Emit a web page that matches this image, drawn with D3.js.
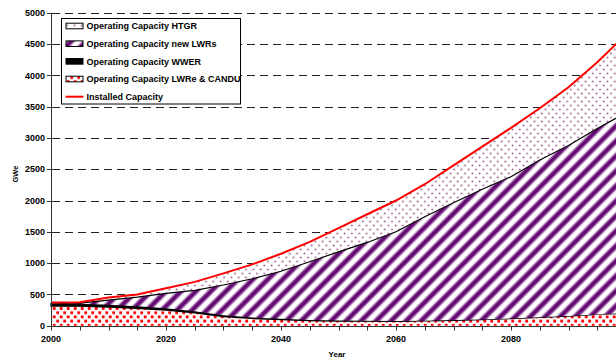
<!DOCTYPE html>
<html>
<head>
<meta charset="utf-8">
<script src="https://cdn.jsdelivr.net/npm/d3@7"></script>
<style>
  body { margin: 0; background: #fff; }
  svg { display: block; }
  text { font-family: "Liberation Sans", Arial, sans-serif; font-weight: bold; fill: #000; }
</style>
</head>
<body>
<svg id="chart" width="616" height="360"></svg>
<script>
// Operating capacity by reactor type, GWe, every five years
const years      = [2000, 2005, 2010, 2015, 2020, 2025, 2030, 2035, 2040, 2045, 2050, 2055, 2060, 2065, 2070, 2075, 2080, 2085, 2090, 2095, 2100];
const lwreCandu  = [314, 312, 299, 276, 250, 205, 147, 116, 98, 81, 74, 72, 71, 76, 87, 98, 113, 134, 154, 180, 200];
const wwer       = [38, 38, 36, 34, 30, 25, 18, 14, 12, 10, 8, 6, 5, 4, 3, 2, 2, 1, 1, 0, 0];
const newLwrs    = [8, 12, 75, 145, 237, 335, 485, 620, 760, 931, 1098, 1252, 1424, 1660, 1875, 2080, 2265, 2512, 2725, 2970, 3200];
const htgr       = [12, 13, 40, 45, 80, 135, 186, 230, 280, 318, 380, 450, 500, 520, 595, 680, 780, 826, 930, 1060, 1250];
const installed  = [372, 375, 450, 500, 597, 700, 836, 980, 1150, 1340, 1560, 1780, 2000, 2260, 2560, 2860, 3160, 3473, 3810, 4210, 4650];

const yTicks = d3.range(0, 5001, 500);
const xMinorTicks = d3.range(2000, 2101, 5);
const xLabels = [2000, 2020, 2040, 2060, 2080];

const legendItems = [
  { key: "htgr",      label: "Operating Capacity HTGR" },
  { key: "newLwrs",   label: "Operating Capacity new LWRs" },
  { key: "wwer",      label: "Operating Capacity WWER" },
  { key: "lwreCandu", label: "Operating Capacity LWRe & CANDU" },
  { key: "installed", label: "Installed Capacity" }
];

const svg = d3.select("#chart");
const x = d3.scaleLinear().domain([2000, 2100]).range([51, 626]);
const y = d3.scaleLinear().domain([0, 5000]).range([325.7, 12.7]);

// ---- fill patterns ----
const defs = svg.append("defs");

// red confetti squares
const pRed = defs.append("pattern").attr("id", "pRed")
  .attr("patternUnits", "userSpaceOnUse").attr("width", 7).attr("height", 8.4);
pRed.append("rect").attr("width", 7).attr("height", 8.4).attr("fill", "#fff");
pRed.append("rect").attr("x", 0.3).attr("y", 0.5).attr("width", 2.8).attr("height", 2.8).attr("fill", "#ff0000");
pRed.append("rect").attr("x", 3.8).attr("y", 4.7).attr("width", 2.8).attr("height", 2.8).attr("fill", "#ff0000");

// purple diagonal stripes
const grad = defs.append("linearGradient").attr("id", "gStripe")
  .attr("x1", "0").attr("x2", "1").attr("y1", "0").attr("y2", "0");
[["0%", "#ffffff"], ["16%", "#ffffff"], ["38%", "#650a73"], ["62%", "#650a73"], ["84%", "#ffffff"], ["100%", "#ffffff"]]
  .forEach(([o, c]) => grad.append("stop").attr("offset", o).attr("stop-color", c));
const pStripe = defs.append("pattern").attr("id", "pStripe")
  .attr("patternUnits", "userSpaceOnUse").attr("width", 10.6).attr("height", 10.6)
  .attr("patternTransform", "rotate(45)");
pStripe.append("rect").attr("width", 10.6).attr("height", 10.6).attr("fill", "url(#gStripe)");

// sparse pink dots
const pDots = defs.append("pattern").attr("id", "pDots")
  .attr("patternUnits", "userSpaceOnUse").attr("width", 7.3).attr("height", 8);
pDots.append("rect").attr("width", 7.3).attr("height", 8).attr("fill", "#fff");
pDots.append("circle").attr("cx", 1.5).attr("cy", 1.5).attr("r", 0.95).attr("fill", "#a0608e");
pDots.append("circle").attr("cx", 5.15).attr("cy", 5.5).attr("r", 0.95).attr("fill", "#a0608e");

const fills = { htgr: "url(#pDots)", newLwrs: "url(#pStripe)", wwer: "#000", lwreCandu: "url(#pRed)" };

// ---- gridlines ----
svg.append("g").selectAll("line").data(yTicks.filter(d => d > 0)).join("line")
  .attr("x1", 52).attr("x2", 616)
  .attr("y1", d => Math.round(y(d)) + 0.5).attr("y2", d => Math.round(y(d)) + 0.5)
  .attr("stroke", "#222").attr("stroke-width", 1).attr("stroke-dasharray", "8,5");

// ---- stacked areas ----
const rows = years.map((yr, i) => ({
  year: yr, lwreCandu: lwreCandu[i], wwer: wwer[i], newLwrs: newLwrs[i], htgr: htgr[i]
}));
const stack = d3.stack().keys(["lwreCandu", "wwer", "newLwrs", "htgr"]);
const layers = stack(rows);

const area = d3.area()
  .x(d => x(d.data.year))
  .y0(d => y(d[0]))
  .y1(d => y(d[1]));

svg.append("g").selectAll("path").data(layers).join("path")
  .attr("d", area)
  .attr("fill", d => fills[d.key])
  .attr("stroke", d => d.key === "wwer" ? "#000" : "none")
  .attr("stroke-width", 1.3);

// black outline on top of the new-LWR layer
const topLine = d3.line().x(d => x(d.data.year)).y(d => y(d[1]));
svg.append("path").datum(layers[2])
  .attr("d", topLine).attr("fill", "none").attr("stroke", "#000").attr("stroke-width", 1.2);

// installed capacity
const instLine = d3.line().x((d, i) => x(years[i])).y(d => y(d));
svg.append("path").datum(installed)
  .attr("d", instLine).attr("fill", "none").attr("stroke", "#ff0000").attr("stroke-width", 2);

// ---- axes ----
const axisColor = "#333";
const gy = svg.append("g");
gy.append("line").attr("x1", 51.5).attr("x2", 51.5).attr("y1", y(5000)).attr("y2", y(0) + 0.5)
  .attr("stroke", axisColor);
gy.selectAll("line.t").data(yTicks).join("line").attr("class", "t")
  .attr("x1", 47).attr("x2", 51.5)
  .attr("y1", d => Math.round(y(d)) + 0.5).attr("y2", d => Math.round(y(d)) + 0.5)
  .attr("stroke", axisColor);
gy.selectAll("text").data(yTicks).join("text")
  .attr("x", 45).attr("y", d => y(d) + 3.2)
  .attr("text-anchor", "end").attr("font-size", 9)
  .text(d => d);

const gx = svg.append("g");
gx.append("line").attr("x1", 51).attr("x2", 616).attr("y1", 326.5).attr("y2", 326.5)
  .attr("stroke", axisColor).attr("stroke-width", 1.2);
gx.selectAll("line.t").data(xMinorTicks).join("line").attr("class", "t")
  .attr("x1", d => Math.round(x(d)) + 0.5).attr("x2", d => Math.round(x(d)) + 0.5)
  .attr("y1", 326.5).attr("y2", 330.5)
  .attr("stroke", axisColor);
gx.selectAll("text").data(xLabels).join("text")
  .attr("x", d => x(d)).attr("y", 342)
  .attr("text-anchor", "middle").attr("font-size", 9)
  .text(d => d);

svg.append("text").attr("x", 337).attr("y", 357)
  .attr("text-anchor", "middle").attr("font-size", 8).text("Year");
svg.append("text").attr("transform", "translate(18,174) rotate(-90)")
  .attr("text-anchor", "middle").attr("font-size", 7.5).text("GWe");

// ---- legend ----
const lg = svg.append("g");
lg.append("rect").attr("x", 61.5).attr("y", 18.5).attr("width", 179).attr("height", 85.5)
  .attr("fill", "#fff").attr("stroke", "#000").attr("stroke-width", 1);
const ly = d3.scalePoint().domain(legendItems.map(d => d.key)).range([26, 96.7]);
legendItems.forEach(item => {
  const cy = ly(item.key);
  if (item.key === "installed") {
    lg.append("line").attr("x1", 65.5).attr("x2", 83.5).attr("y1", cy).attr("y2", cy)
      .attr("stroke", "#ff0000").attr("stroke-width", 2);
  } else {
    lg.append("rect").attr("x", 66).attr("y", cy - 2.8).attr("width", 17).attr("height", 5.6)
      .attr("fill", fills[item.key]).attr("stroke", "#000").attr("stroke-width", 1);
  }
  lg.append("text").attr("x", 86.5).attr("y", cy + 3.2).attr("font-size", 9).text(item.label);
});
</script>
</body>
</html>
